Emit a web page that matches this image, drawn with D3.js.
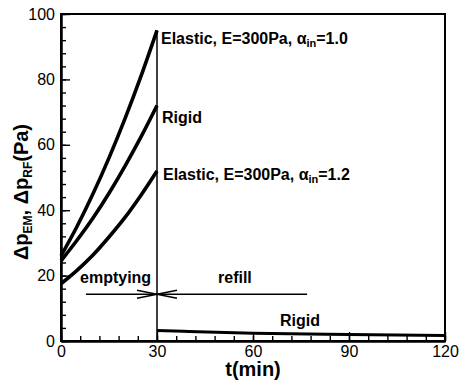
<!DOCTYPE html>
<html lang="en">
<head>
  <meta charset="UTF-8">
  <title>emptying / refill pressure</title>
  <style>
    html, body { margin: 0; background: #fff; }
    svg text { font-family: "Liberation Sans", Arial, sans-serif; fill: #000; }
  </style>
  <script src="https://cdn.jsdelivr.net/npm/d3@7"></script>
</head>
<body>
  <script>
    // canvas
    const width = 460
    const height = 385
    const margin = { left: 61, right: 15, top: 14, bottom: 44 }

    // data
    const tEmpty = [0, 5, 10, 15, 20, 25, 30]
    const elastic10 = [26, 35, 45, 56, 68, 81, 95]
    const rigid = [24.5, 30.8, 37.6, 45.2, 53.5, 62.4, 72]
    const elastic12 = [17.5, 21.6, 26.3, 31.8, 37.8, 44.6, 52]
    const tRefill = [30, 40, 60, 90, 120]
    const rigidRefill = [3.2, 2.9, 2.4, 2.0, 1.7]
    const xTicks = [0, 30, 60, 90, 120]
    const yTicks = [0, 20, 40, 60, 80, 100]
    const switchLine = [[30, 0], [30, 95]]
    const arrowEmpty = [[7.8, 14.3], [30, 14.3]]
    const arrowRefill = [[76.9, 14.3], [30, 14.3]]

    const svg = d3.select('body').append('svg')
      .attr('width', width)
      .attr('height', height)

    const x = d3.scaleLinear().domain([0, 120]).range([margin.left, width - margin.right])
    const y = d3.scaleLinear().domain([0, 100]).range([height - margin.bottom, margin.top])

    // frame
    svg.append('rect')
      .attr('x', x(0)).attr('y', y(100))
      .attr('width', x(120) - x(0)).attr('height', y(0) - y(100))
      .attr('fill', 'none').attr('stroke', '#000').attr('stroke-width', 2)

    // curves
    const line = d3.line().x(d => x(d[0])).y(d => y(d[1])).curve(d3.curveMonotoneX)
    const series = [elastic10, rigid, elastic12]
    series.forEach(s => {
      svg.append('path')
        .attr('d', line(tEmpty.map((t, i) => [t, s[i]])))
        .attr('fill', 'none').attr('stroke', '#000').attr('stroke-width', 3.6)
    })
    svg.append('path')
      .attr('d', line(tRefill.map((t, i) => [t, rigidRefill[i]])))
      .attr('fill', 'none').attr('stroke', '#000').attr('stroke-width', 3)

    // vertical line at switch
    svg.append('path')
      .attr('d', d3.line().x(d => x(d[0])).y(d => y(d[1]))(switchLine))
      .attr('stroke', '#000').attr('stroke-width', 1.5)

    // arrows
    function arrow(pts) {
      const x0 = x(pts[0][0]), x1 = x(pts[1][0]), yy = y(pts[0][1])
      const dir = Math.sign(x1 - x0)
      const hl = 20, hw = 4
      svg.append('line')
        .attr('x1', x0).attr('x2', x1).attr('y1', yy).attr('y2', yy)
        .attr('stroke', '#000').attr('stroke-width', 1.3)
      svg.append('path')
        .attr('d', `M${x1 - dir * hl},${yy - hw}L${x1},${yy}L${x1 - dir * hl},${yy + hw}`)
        .attr('fill', 'none').attr('stroke', '#000').attr('stroke-width', 1.5)
    }
    arrow(arrowEmpty)
    arrow(arrowRefill)

    // labels
    function label(px, py, parts) {
      const t = svg.append('text')
        .attr('x', px).attr('y', py)
        .attr('font-size', 16).attr('font-weight', 'bold')
      parts.forEach(p => {
        const ts = t.append('tspan').text(p.text)
        if (p.sub) ts.attr('font-size', 11).attr('baseline-shift', '-25%')
      })
      return t
    }
    label(161, 44, [{ text: 'Elastic, E=300Pa, α' }, { text: 'in', sub: true }, { text: '=1.0' }])
    label(162, 123, [{ text: 'Rigid' }])
    label(163, 180, [{ text: 'Elastic, E=300Pa, α' }, { text: 'in', sub: true }, { text: '=1.2' }])
    label(80, 283, [{ text: 'emptying' }])
    label(218, 283, [{ text: 'refill' }])
    label(280, 326, [{ text: 'Rigid' }])

    // axis titles
    svg.append('text')
      .attr('x', x(60)).attr('y', 376)
      .attr('text-anchor', 'middle')
      .attr('font-size', 20).attr('font-weight', 'bold')
      .text('t(min)')

    const yt = svg.append('text')
      .attr('transform', 'translate(28,192) rotate(-90)')
      .attr('text-anchor', 'middle')
      .attr('font-size', 20).attr('font-weight', 'bold')
    yt.append('tspan').text('Δp')
    yt.append('tspan').text('EM').attr('font-size', 12).attr('baseline-shift', '-30%')
    yt.append('tspan').text(', Δp')
    yt.append('tspan').text('RF').attr('font-size', 12).attr('baseline-shift', '-30%')
    yt.append('tspan').text('(Pa)')

    // axes last: minor ticks (inside, no labels)
    svg.append('g').attr('transform', `translate(0,${y(0)})`)
      .call(d3.axisBottom(x).tickValues(d3.range(0, 121, 6)).tickSize(-5).tickSizeOuter(0).tickFormat(''))
    svg.append('g').attr('transform', `translate(${x(0)},0)`)
      .call(d3.axisLeft(y).tickValues(d3.range(0, 101, 4)).tickSize(-5).tickSizeOuter(0).tickFormat(''))

    // major ticks + labels
    svg.append('g').attr('transform', `translate(0,${y(0)})`)
      .call(d3.axisBottom(x).tickValues(xTicks).tickSize(-9).tickSizeOuter(0).tickPadding(5))
    svg.append('g').attr('transform', `translate(${x(0)},0)`)
      .call(d3.axisLeft(y).tickValues(yTicks).tickSize(-9).tickSizeOuter(0).tickPadding(6))

    svg.selectAll('.domain').attr('stroke-width', 2)
    svg.selectAll('.tick line').attr('stroke', '#000').attr('stroke-width', 1.4)
    svg.selectAll('.tick text').attr('font-size', 16).attr('font-family', '"Liberation Sans", Arial, sans-serif')
  </script>
</body>
</html>
